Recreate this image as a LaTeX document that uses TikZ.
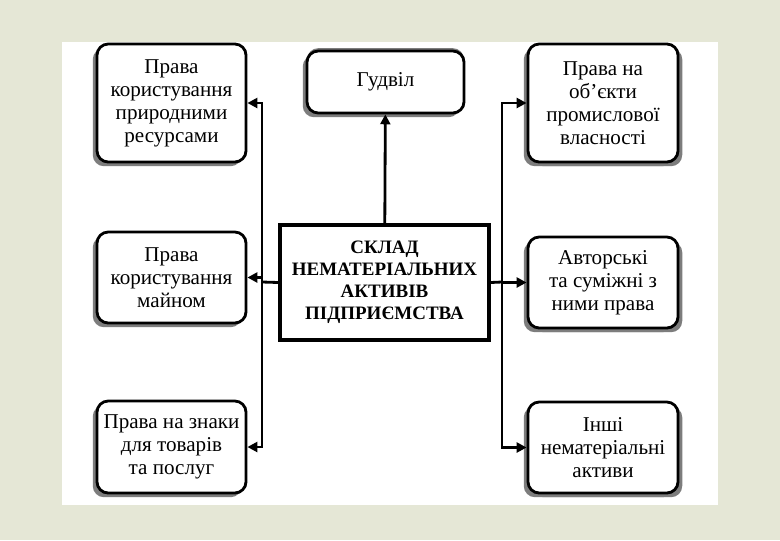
\documentclass[tikz,border=0pt]{standalone}
\usepackage{fontspec}
\setmainfont{Liberation Serif}
\usetikzlibrary{shapes.geometric, arrows.meta, shadows}
\definecolor{paper}{RGB}{229,231,214}
\definecolor{shade}{RGB}{125,125,125}
\tikzstyle{leftbox} = [
    rectangle,
    rounded corners=8pt,
    minimum width=3.725cm,
    draw=black,
    line width=2pt,
    fill=white,
    align=center,
    font=\fontsize{15}{16.4}\selectfont,
    drop shadow={shadow xshift=-3pt, shadow yshift=-3pt, fill=shade, opacity=1}
]
\tikzstyle{rightbox} = [
    leftbox,
    minimum width=3.75cm,
    drop shadow={shadow xshift=3pt, shadow yshift=-3pt, fill=shade, opacity=1}
]
\tikzstyle{topbox} = [
    leftbox,
    minimum width=3.925cm,
    minimum height=1.55cm,
    drop shadow={shadow xshift=0pt, shadow yshift=2pt, fill=shade, opacity=1}
]
\tikzstyle{mainbox} = [
    rectangle,
    minimum width=5.225cm,
    minimum height=2.875cm,
    draw=black,
    line width=2.5pt,
    fill=white,
    align=center,
    font=\fontsize{13.5}{15.6}\selectfont\bfseries
]
\tikzstyle{link} = [line width=2pt]
\tikzstyle{arrow} = [line width=2pt,->,>={Triangle[length=7pt,width=7pt]}]

\begin{document}
\begin{tikzpicture}[x=0.025cm, y=-0.025cm]

\useasboundingbox (0,0) rectangle (780,540);
\fill[paper] (0,0) rectangle (780,540);
\fill[white] (62,42) rectangle (718,505);

\node (main) [mainbox] at (384.5,282.5)
{СКЛАД\\НЕМАТЕРІАЛЬНИХ\\АКТИВІВ\\ПІДПРИЄМСТВА};

\node (goodwill) [topbox] at (385.5,82) {Гудвіл};

\node (nature) [leftbox, minimum height=2.95cm] at (171.5,103)
{Права\\користування\\природними\\ресурсами};

\node (property) [leftbox, minimum height=2.275cm] at (171.5,277.5)
{Права\\користування\\майном};

\node (marks) [leftbox, minimum height=2.3cm] at (171.5,447)
{Права на знаки\\для товарів\\та послуг};

\node (industry) [rightbox, minimum height=2.95cm] at (603,103)
{Права на\\об’єкти\\промислової\\власності};

\node (author) [rightbox, minimum height=2.275cm] at (603,282.5)
{Авторські\\та суміжні з\\ними права};

\node (other) [rightbox, minimum height=2.275cm] at (603,447.5)
{Інші\\нематеріальні\\активи};

\coordinate (jleft) at (262,282);
\coordinate (jright) at (502,282);

\draw [link] (main.west) -- (jleft);
\draw [link] (main.east) -- (jright);
\draw [arrow] (main) -- (goodwill);
\draw [arrow] (jleft) |- (nature.east);
\draw [arrow] (jleft) |- (property.east);
\draw [arrow] (jleft) |- (marks.east);
\draw [arrow] (jright) |- (industry.west);
\draw [arrow] (jright) |- (author.west);
\draw [arrow] (jright) |- (other.west);

\end{tikzpicture}
\end{document}
